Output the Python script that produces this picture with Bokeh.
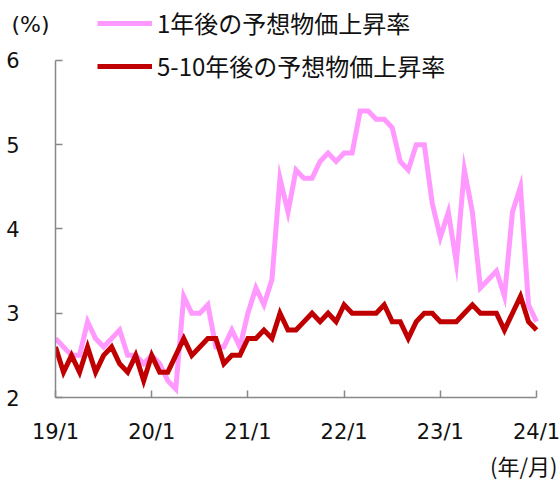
from bokeh.plotting import figure
from bokeh.models import FixedTicker, Legend, LegendItem, LinearAxis, Title
from bokeh.embed import file_html
from bokeh.resources import INLINE

# month index: 0 = 2019/1 ... 60 = 2024/1
months = list(range(61))
tick_pos = [0, 12, 24, 36, 48, 60]
tick_labels = ["19/1", "20/1", "21/1", "22/1", "23/1", "24/1"]
y_ticks = [2, 3, 4, 5, 6]

series1_name = "1年後の予想物価上昇率"
series2_name = "5-10年後の予想物価上昇率"
unit_y = "(%)"
unit_x = "(年/月)"

one_year = [2.7, 2.6, 2.5, 2.5, 2.9, 2.7, 2.6, 2.7, 2.8, 2.5,
            2.5, 2.4, 2.5, 2.4, 2.2, 2.1, 3.2, 3.0, 3.0, 3.1,
            2.6, 2.6, 2.8, 2.6, 3.0, 3.3, 3.1, 3.4, 4.6, 4.2,
            4.7, 4.6, 4.6, 4.8, 4.9, 4.8, 4.9, 4.9, 5.4, 5.4,
            5.3, 5.3, 5.2, 4.8, 4.7, 5.0, 5.0, 4.3, 3.9, 4.2,
            3.6, 4.7, 4.2, 3.3, 3.4, 3.5, 3.2, 4.2, 4.5, 3.1,
            2.9]
five_ten = [2.6, 2.3, 2.5, 2.3, 2.6, 2.3, 2.5, 2.6, 2.4, 2.3,
            2.5, 2.2, 2.5, 2.3, 2.3, 2.5, 2.7, 2.5, 2.6, 2.7,
            2.7, 2.4, 2.5, 2.5, 2.7, 2.7, 2.8, 2.7, 3.0, 2.8,
            2.8, 2.9, 3.0, 2.9, 3.0, 2.9, 3.1, 3.0, 3.0, 3.0,
            3.0, 3.1, 2.9, 2.9, 2.7, 2.9, 3.0, 3.0, 2.9, 2.9,
            2.9, 3.0, 3.1, 3.0, 3.0, 3.0, 2.8, 3.0, 3.2, 2.9,
            2.8]

FONT = "Noto Sans CJK JP"
NUMFONT = "DejaVu Sans"

p = figure(width=560, height=480, output_backend="svg", toolbar_location=None,
           title=None, x_range=(0, 62.99), y_range=(2, 6.71),
           min_border_left=55, min_border_right=0,
           min_border_top=0, min_border_bottom=82)
p.outline_line_color = None
p.xgrid.visible = False
p.ygrid.visible = False
p.background_fill_color = "white"
p.border_fill_color = "white"

r1 = p.line(months, one_year, line_color="#FF99FF", line_width=5, line_join="miter")
r2 = p.line(months, five_ten, line_color="#C00000", line_width=5, line_join="miter")

for ax in (p.xaxis[0], p.yaxis[0]):
    ax.axis_line_color = "#888888"
    ax.axis_line_width = 1.5
    ax.major_tick_line_color = "#888888"
    ax.major_tick_line_width = 1.5
    ax.major_tick_in = 7
    ax.major_tick_out = 0
    ax.minor_tick_line_color = None
    ax.major_label_text_font = NUMFONT
    ax.major_label_text_font_size = "21px"
    ax.major_label_text_color = "#111111"

p.xaxis.bounds = (0, 60)
p.xaxis.ticker = FixedTicker(ticks=tick_pos)
p.xaxis.major_label_overrides = {t: l for t, l in zip(tick_pos, tick_labels)}
p.xaxis.major_label_standoff = 22
p.yaxis.bounds = (2, 6)
p.yaxis.ticker = FixedTicker(ticks=y_ticks)
p.yaxis.major_label_standoff = 36

# unit label "(%)" at the top of the value axis
unit_axis = LinearAxis(ticker=FixedTicker(ticks=[6.42]), bounds=(6.3, 6.6),
                       major_label_overrides={6.42: unit_y},
                       axis_line_color=None, major_tick_line_color=None,
                       minor_tick_line_color=None, major_tick_out=0, major_tick_in=0,
                       major_label_standoff=-46,
                       major_label_text_font=NUMFONT,
                       major_label_text_font_size="22px",
                       major_label_text_color="#111111")
p.add_layout(unit_axis, "left")

legend = Legend(items=[LegendItem(label=series1_name, renderers=[r1]),
                       LegendItem(label=series2_name, renderers=[r2])],
                location=(42, 314), orientation="vertical",
                glyph_width=55, glyph_height=28, label_height=28,
                spacing=8, padding=0, margin=0, label_standoff=5,
                label_text_font=FONT, label_text_font_size="24px",
                label_text_color="#111111",
                border_line_color=None, background_fill_alpha=0)
p.add_layout(legend, "center")

p.add_layout(Title(text=unit_x, align="right", offset=3,
                   text_font=FONT, text_font_size="22px", text_font_style="normal",
                   text_color="#111111", standoff=0), "below")

open("out.html", "w").write(file_html(p, INLINE))
